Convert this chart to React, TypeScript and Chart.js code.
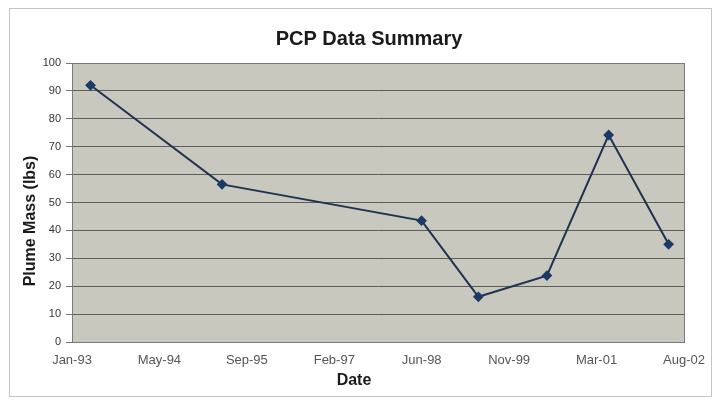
import React, { useEffect, useRef } from "react";
import { Chart, registerables } from "chart.js";

Chart.register(...registerables);

const FONT = "'Liberation Sans', Arial, Helvetica, sans-serif";

const chartTitle = "PCP Data Summary";
const yAxisTitle = "Plume Mass (lbs)";
const xAxisTitle = "Date";

// Sample dates and plume mass values (lbs)
const sampleDates = [
  "1993-04-17",
  "1995-05-09",
  "1998-06-23",
  "1999-05-14",
  "2000-06-09",
  "2001-05-28",
  "2002-05-06",
];
const plumeMass = [92, 56.5, 43.5, 16.2, 23.8, 74.2, 35];

// Date axis: origin Jan 1 1993, major unit 500 days
const axisOrigin = "1993-01-01";
const axisMaxDays = 3500;
const axisStepDays = 500;
const xTickLabels = ["Jan-93", "May-94", "Sep-95", "Feb-97", "Jun-98", "Nov-99", "Mar-01", "Aug-02"];

const DAY_MS = 86400000;
const toDays = (d: string) => (Date.parse(d) - Date.parse(axisOrigin)) / DAY_MS;

const framePlugin = {
  id: "frameAndTitle",
  beforeDraw(chart: any) {
    const { ctx, chartArea } = chart;
    ctx.save();
    ctx.fillStyle = "#ffffff";
    ctx.fillRect(0, 0, chart.width, chart.height);
    ctx.strokeStyle = "#c4c4c4";
    ctx.lineWidth = 1;
    ctx.strokeRect(9.5, 8.5, 702, 388);
    ctx.fillStyle = "#c8c8bf";
    ctx.fillRect(chartArea.left, chartArea.top, chartArea.right - chartArea.left, chartArea.bottom - chartArea.top);
    ctx.restore();
  },
  beforeDatasetsDraw(chart: any) {
    const { ctx, chartArea } = chart;
    ctx.save();
    ctx.strokeStyle = "#7a7a7a";
    ctx.lineWidth = 1;
    ctx.strokeRect(
      Math.round(chartArea.left) + 0.5,
      Math.round(chartArea.top) + 0.5,
      Math.round(chartArea.right - chartArea.left),
      Math.round(chartArea.bottom - chartArea.top)
    );
    ctx.restore();
  },
  afterDraw(chart: any) {
    const { ctx } = chart;
    ctx.save();
    ctx.fillStyle = "#1a1a1a";
    ctx.textAlign = "center";
    ctx.textBaseline = "middle";
    ctx.font = `bold 20px ${FONT}`;
    ctx.fillText(chartTitle, 369, 39);
    ctx.font = `bold 16px ${FONT}`;
    ctx.fillText(xAxisTitle, 354, 381);
    ctx.translate(31, 221);
    ctx.rotate(-Math.PI / 2);
    ctx.fillText(yAxisTitle, 0, 0);
    ctx.restore();
  },
};

export default function App() {
  const canvasRef = useRef<HTMLCanvasElement | null>(null);

  useEffect(() => {
    if (!canvasRef.current) return;
    const points = sampleDates.map((d, i) => ({ x: toDays(d), y: plumeMass[i] }));
    const chart = new Chart(canvasRef.current, {
      type: "line",
      data: {
        datasets: [
          {
            label: "PCP",
            data: points,
            borderColor: "#1f3350",
            backgroundColor: "#1b3a66",
            borderWidth: 2,
            pointStyle: "rectRot",
            pointRadius: 4,
            pointBackgroundColor: "#1b3a66",
            pointBorderColor: "#1b3a66",
            tension: 0,
          },
        ],
      },
      options: {
        animation: false,
        responsive: false,
        devicePixelRatio: 1,
        layout: { padding: { left: 18, right: 33, top: 63, bottom: 8 } },
        plugins: {
          legend: { display: false },
          tooltip: { enabled: false },
          title: { display: false },
        },
        scales: {
          x: {
            type: "linear",
            min: 0,
            max: axisMaxDays,
            grid: { display: false, drawTicks: false },
            border: { display: false },
            ticks: {
              stepSize: axisStepDays,
              autoSkip: false,
              maxRotation: 0,
              padding: 11,
              color: "#555",
              font: { size: 13, family: FONT },
              callback: (v: any) => xTickLabels[Math.round(Number(v) / axisStepDays)] ?? "",
            },
            title: { display: false },
            afterFit: (s: any) => {
              s.height = 50;
            },
          },
          y: {
            min: 0,
            max: 100,
            grid: { color: "#5c5c5c", lineWidth: 1, tickLength: 6, tickColor: "#777" },
            border: { display: true, color: "#7a7a7a" },
            ticks: {
              stepSize: 10,
              padding: 5,
              color: "#333",
              font: { size: 11, family: FONT },
            },
            title: { display: false },
            afterFit: (s: any) => {
              s.width = 54;
            },
          },
        },
      } as any,
      plugins: [framePlugin],
    });
    return () => chart.destroy();
  }, []);

  return (
    <div style={{ position: "fixed", left: 0, top: 0, width: 717, height: 400, background: "#fff" }}>
      <canvas ref={canvasRef} width={717} height={400} style={{ width: 717, height: 400, display: "block" }} />
    </div>
  );
}
